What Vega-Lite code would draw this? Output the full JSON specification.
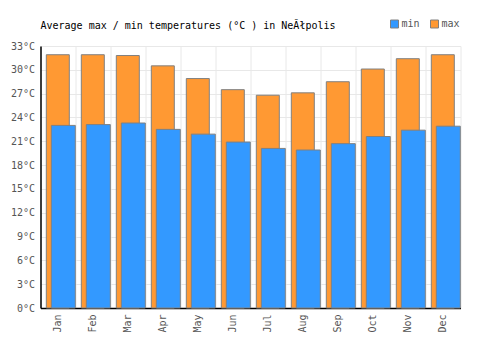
{
  "$schema": "https://vega.github.io/schema/vega-lite/v6.json",
  "width": 420,
  "height": 262,
  "autosize": {"type": "none"},
  "padding": {"left": 40.5, "top": 46, "right": 39.5, "bottom": 42},
  "background": "white",
  "title": {
    "text": "Average max / min temperatures (°C ) in NeĂłpolis",
    "font": "DejaVu Sans Mono",
    "fontSize": 10,
    "fontWeight": "normal",
    "color": "#000000",
    "anchor": "start",
    "frame": "group",
    "offset": -12,
    "dx": 0
  },
  "config": {
    "view": {"stroke": "#e8e8e8"},
    "axis": {
      "labelFont": "DejaVu Sans Mono",
      "labelFontSize": 10,
      "labelColor": "#555555",
      "domainColor": "#000000",
      "gridColor": "#e8e8e8",
      "ticks": false,
      "title": null
    },
    "legend": {
      "labelFont": "DejaVu Sans Mono",
      "labelFontSize": 10,
      "labelColor": "#555555"
    }
  },
  "data": {
    "values": [
      {"month": "Jan", "series": "max", "temp": 31.9},
      {"month": "Feb", "series": "max", "temp": 31.9},
      {"month": "Mar", "series": "max", "temp": 31.8},
      {"month": "Apr", "series": "max", "temp": 30.5},
      {"month": "May", "series": "max", "temp": 28.9},
      {"month": "Jun", "series": "max", "temp": 27.5},
      {"month": "Jul", "series": "max", "temp": 26.8},
      {"month": "Aug", "series": "max", "temp": 27.1},
      {"month": "Sep", "series": "max", "temp": 28.5},
      {"month": "Oct", "series": "max", "temp": 30.1},
      {"month": "Nov", "series": "max", "temp": 31.4},
      {"month": "Dec", "series": "max", "temp": 31.9},
      {"month": "Jan", "series": "min", "temp": 23.0},
      {"month": "Feb", "series": "min", "temp": 23.1},
      {"month": "Mar", "series": "min", "temp": 23.3},
      {"month": "Apr", "series": "min", "temp": 22.5},
      {"month": "May", "series": "min", "temp": 21.9},
      {"month": "Jun", "series": "min", "temp": 20.9},
      {"month": "Jul", "series": "min", "temp": 20.1},
      {"month": "Aug", "series": "min", "temp": 19.9},
      {"month": "Sep", "series": "min", "temp": 20.7},
      {"month": "Oct", "series": "min", "temp": 21.6},
      {"month": "Nov", "series": "min", "temp": 22.4},
      {"month": "Dec", "series": "min", "temp": 22.9}
    ]
  },
  "encoding": {
    "x": {
      "field": "month",
      "type": "nominal",
      "sort": ["Jan","Feb","Mar","Apr","May","Jun","Jul","Aug","Sep","Oct","Nov","Dec"],
      "scale": {"paddingInner": 0, "paddingOuter": 0},
      "axis": {"labelAngle": 270, "grid": true, "bandPosition": 0, "labelPadding": 6, "domainWidth": 1.5}
    },
    "y": {
      "field": "temp",
      "type": "quantitative",
      "scale": {"domain": [0, 33], "nice": false},
      "axis": {"values": [0,3,6,9,12,15,18,21,24,27,30,33], "labelExpr": "datum.value + '°C'", "labelPadding": 6, "domainWidth": 1.5}
    },
    "color": {
      "field": "series",
      "type": "nominal",
      "scale": {"domain": ["min", "max"], "range": ["#3399ff", "#ff9933"]},
      "legend": {
        "title": null,
        "orient": "none",
        "direction": "horizontal",
        "legendX": 349,
        "legendY": -27,
        "symbolType": "square",
        "symbolSize": 64,
        "symbolStrokeColor": "#808080",
        "symbolStrokeWidth": 1,
        "symbolOpacity": 1,
        "labelOffset": 2,
        "columnPadding": 8
      }
    }
  },
  "layer": [
    {
      "transform": [{"filter": "datum.series === 'max'"}],
      "mark": {"type": "bar", "width": 23, "xOffset": -0.2, "stroke": "#808080", "strokeWidth": 1, "opacity": 1}
    },
    {
      "transform": [{"filter": "datum.series === 'min'"}],
      "mark": {"type": "bar", "width": 24, "xOffset": 5.3, "stroke": "#808080", "strokeWidth": 1, "opacity": 1}
    }
  ]
}
